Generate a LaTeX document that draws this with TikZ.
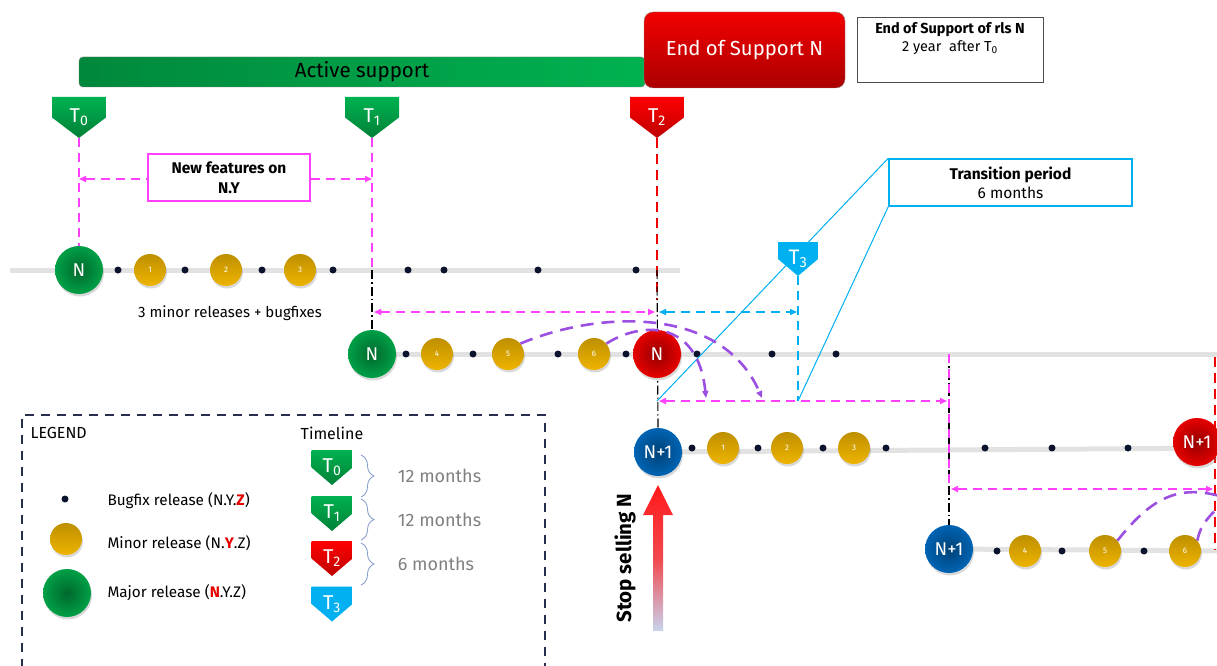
\documentclass[tikz,border=0pt]{standalone}
\usepackage{fontspec}
\setmainfont{Fira Sans}
\usetikzlibrary{arrows.meta, positioning, calc, decorations.pathreplacing, shadows}

\definecolor{relgreen}{RGB}{0,160,70}
\definecolor{relred}{RGB}{230,0,0}
\definecolor{relblue}{RGB}{0,100,180}
\definecolor{relgold}{RGB}{238,180,0}
\definecolor{tgreenlt}{RGB}{0,178,80}
\definecolor{tgreendk}{RGB}{0,128,55}
\definecolor{tredlt}{RGB}{255,0,0}
\definecolor{treddk}{RGB}{190,0,0}
\definecolor{tcyan}{RGB}{0,176,240}
\definecolor{fmagenta}{RGB}{255,64,255}
\definecolor{curvepurple}{RGB}{155,80,225}
\definecolor{railgray}{RGB}{226,226,226}
\definecolor{dotnavy}{RGB}{12,20,45}
\definecolor{legendnavy}{RGB}{38,48,78}
\definecolor{bracegray}{RGB}{140,160,205}
\definecolor{monthgray}{RGB}{128,128,128}
\definecolor{arrowred}{RGB}{255,25,25}
\definecolor{arrowpale}{RGB}{200,212,238}

\newcommand{\pxsize}[2]{\fontsize{#1}{#2}\selectfont}

\pgfdeclarelayer{bg}
\pgfsetlayers{bg,main}

\begin{document}
\begin{tikzpicture}[x=1pt, y=-1pt,
  rail/.style={draw=railgray, line width=5pt},
  major/.style={circle, minimum size=48pt, inner sep=0pt, text=white, font=\pxsize{18.5}{18.5},
    inner color=#1!65!black, outer color=#1, drop shadow={opacity=0.3, shadow xshift=1pt, shadow yshift=-2.5pt}},
  minor/.style={circle, minimum size=32pt, inner sep=0pt, text=white, font=\pxsize{8}{8},
    top color=relgold!80!black, bottom color=relgold, drop shadow={opacity=0.3, shadow xshift=1pt, shadow yshift=-2.5pt}},
  bugfix/.style={circle, fill=dotnavy, minimum size=7pt, inner sep=0pt},
  tmark/.style n args={4}{minimum width=#1, minimum height=#2, inner sep=0pt, text=white, font=\pxsize{20}{20},
    path picture={\shade[top color=#3, bottom color=#4] (path picture bounding box.north west)
      -- (path picture bounding box.north east) -- (path picture bounding box.east)
      -- (path picture bounding box.south) -- (path picture bounding box.west) -- cycle;}},
  feat/.style={draw=fmagenta, line width=1.6pt, dash pattern=on 9pt off 6pt},
  eosline/.style={draw=red!95!black, line width=1.6pt, dash pattern=on 10pt off 6pt},
  transline/.style={draw=tcyan, line width=1.6pt, dash pattern=on 9pt off 6pt},
  branch/.style={draw=black, line width=1.1pt, dash pattern=on 9pt off 3pt on 1.5pt off 3pt},
  backport/.style={draw=curvepurple, line width=2.6pt, dash pattern=on 13pt off 8pt},
  callout/.style={draw=tcyan, line width=1pt},
  brace/.style={draw=bracegray, line width=0.9pt, decorate, decoration={brace, amplitude=13pt}},
  >={Triangle[length=7pt,width=6pt]}
]
\useasboundingbox (0,0) rectangle (1217,666);

% support bars
\node[draw=black!55, rounded corners=4pt, left color=relgreen!85!black, right color=tgreenlt,
  minimum width=566pt, minimum height=30pt, font=\pxsize{20.5}{20.5}] (active) at (362,72) {Active support};
\node[draw=black!45, rounded corners=9pt, top color=red!95!black, bottom color=treddk!90!black,
  minimum width=201pt, minimum height=76pt, text=white, font=\pxsize{20.3}{20.3}] (eos) at (744.5,50) {End of Support N};
\node[draw=black!70, line width=0.8pt, minimum width=186pt, minimum height=65pt] (eosbox) at (950,49.5) {};
\node[align=center, font=\pxsize{14.5}{18.5}, below=2pt of eosbox.north] (eostext)
  {\textbf{End of Support of rls N}\\2 year\ \ after T\textsubscript{0}};

% milestones
\node[tmark={54pt}{41pt}{tgreenlt}{tgreendk}] (t0) at (79,117.5) {T\textsubscript{0}};
\node[tmark={54pt}{41pt}{tgreenlt}{tgreendk}] (t1) at (372,117.5) {T\textsubscript{1}};
\node[tmark={54pt}{41pt}{tredlt}{treddk}] (t2) at (657,117.5) {T\textsubscript{2}};

\node[draw=fmagenta, line width=1.5pt, fill=white, minimum width=162pt, minimum height=47pt, align=center,
  font=\bfseries\pxsize{15.5}{19.5}] (newfeat) at (229,177.5) {New features on\\N.Y};
\node[draw=tcyan, line width=1.5pt, fill=white, minimum width=243pt, minimum height=47pt, align=center,
  font=\pxsize{15.5}{19}] (trans) at (1010.5,182.5) {\textbf{Transition period}\\6 months};

% release N
\node[major=relgreen] (n1) at (79,270) {N};
\foreach \x/\k in {150/1,226/2,300/3} \node[minor] (m\k) at (\x,270) {\k};
\foreach \x in {118,185,262,333,408,444,538,636} \node[bugfix] (b1-\x) at (\x,270) {};
\node[font=\pxsize{15}{15}] (minors) at (230,313) {3 minor releases + bugfixes};

\node[major=relgreen] (n2) at (372,354) {N};
\foreach \x/\k in {437/4,508/5,594/6} \node[minor] (m\k) at (\x,354) {\k};
\foreach \x in {406,473,558,626,697,772,836} \node[bugfix] (b2-\x) at (\x,354) {};
\node[major=relred] (n2r) at (657,354) {N};

% release N+1
\node[major=relblue] (n3) at (658,452) {N+1};
\foreach \x/\k in {723/1,787/2,854/3} \node[minor] (p\k) at (\x,448) {\k};
\foreach \x in {692,758,823,886,985,1052,1128} \node[bugfix] (b3-\x) at (\x,448) {};
\node[major=relred] (n3r) at (1197,442) {N+1};

\node[major=relblue] (n4) at (949,549) {N+1};
\foreach \x/\k in {1025/4,1105/5,1185/6} \node[minor] (p\k) at (\x,551) {\k};
\foreach \x in {997,1062,1144} \node[bugfix] (b4-\x) at (\x,551) {};

\coordinate (gA) at (0,179);
\coordinate (gB) at (0,312);
\coordinate (gC) at (0,401);
\coordinate (gD) at (0,489);
\coordinate (tpL) at (657,401);
\coordinate (tpR) at (798,401);

% transition callout
\draw[callout] (trans.north west) -- (tpL);
\draw[callout] (trans.south west) -- (tpR);
\node[tmark={40pt}{34pt}{tcyan}{tcyan}, font=\pxsize{21}{21}] (t3) at (798,259) {T\textsubscript{3}};

\begin{pgfonlayer}{bg}
  \draw[rail] (10,270) -- (680,270);
  \draw[rail] (n2.center) -- (1230,354);
  \draw[rail] (n3.center) -- (1230,448);
  \draw[rail] (n4.center) -- (1230,551);

  \draw[feat] (t0.south) -- (n1.north);
  \draw[feat] (t1.south) -- (t1.south |- n1);
  \draw[branch] (t1.south |- n1) -- (n2.north);
  \draw[eosline] (t2.south) -- (657,300);
  \draw[branch] (t2.south |- n1) -- (n3.north);
  \draw[transline] (t3.south) -- (tpR);
  \draw[branch] (n4 |- n2) -- (n4.north);
  \draw[feat] (n4 |- n2) -- (n4 |- gD);
  \draw[eosline] (1215,357) -- (1215,550);

  \draw[feat, <->] (t0.south |- gA) -- (t1.south |- gA);
  \draw[feat, <->] ([xshift=2pt]t1.south |- gB) -- ([xshift=-2pt]t2.south |- gB);
  \draw[transline, <->] ([xshift=2pt]t2.south |- gB) -- ([xshift=-1pt]t3.south |- gB);
  \draw[feat, <->] ([xshift=2pt]tpL) -- ([xshift=-2pt]n4 |- gC);
  \draw[feat, <->] ([xshift=2pt]n4 |- gD) -- (1213,489);
\end{pgfonlayer}

% backports
\draw[backport, ->] (m5.40) .. controls (600,310) and (722,306) .. (762,398);
\draw[backport, ->] (m6.40) .. controls (640,322) and (698,318) .. (706,398);
\draw[backport] (p5.40) .. controls (1150,500) and (1178,480) .. (1232,500);
\draw[backport] (p6.40) .. controls (1200,524) and (1212,512) .. (1228,500);

% stop selling
\coordinate (stoptip) at ($(n3.south)+(0,9)$);
\shade[top color=arrowred, bottom color=arrowpale, middle color=arrowred!75!arrowpale]
  (stoptip) -- ++(15,30) -- ++(-10,0) -- ++(0,116) -- ++(-10,0) -- ++(0,-116) -- ++(-10,0) -- cycle;
\node[rotate=90, font=\bfseries\pxsize{20.5}{20.5}] (stop) at (625,558) {Stop selling N};

% legend
\draw[legendnavy, line width=2.5pt, dash pattern=on 9pt off 7pt] (22,700) -- (22,415) -- (545,415) -- (545,700);
\node[anchor=west, font=\pxsize{16}{16}] (legend) at (27,433) {LEGEND};
\node[font=\pxsize{16}{16}] (timeline) at (332,433) {Timeline};
\node[bugfix] (lgbug) at (65,499) {};
\node[minor] (lgminor) at (66,539) {};
\node[major=relgreen] (lgmajor) at (67,593) {};
\node[anchor=west, font=\pxsize{15.3}{15.3}] (lgbugtxt) at (104,501) {Bugfix release (N.Y.\textcolor{relred}{\textbf{Z}})};
\node[anchor=west, font=\pxsize{15.3}{15.3}] (lgminortxt) at (104,543) {Minor release (N.\textcolor{relred}{\textbf{Y}}.Z)};
\node[anchor=west, font=\pxsize{15.3}{15.3}] (lgmajortxt) at (104,593) {Major release (\textcolor{relred}{\textbf{N}}.Y.Z)};

\node[tmark={41pt}{35pt}{tgreenlt}{tgreendk}] (lt0) at (332,467.5) {T\textsubscript{0}};
\node[tmark={41pt}{35pt}{tgreenlt}{tgreendk}] (lt1) at (332,513.5) {T\textsubscript{1}};
\node[tmark={41pt}{35pt}{tredlt}{treddk}] (lt2) at (332,558.5) {T\textsubscript{2}};
\node[tmark={41pt}{35pt}{tcyan}{tcyan}] (lt3) at (332,604) {T\textsubscript{3}};

\draw[brace] (361,455) -- (361,497) node[midway, right=33pt, text=monthgray, font=\pxsize{18}{18}] (mo1) {12 months};
\draw[brace] (361,499) -- (361,540) node[midway, right=33pt, text=monthgray, font=\pxsize{18}{18}] (mo2) {12 months};
\draw[brace] (361,543) -- (361,585) node[midway, right=33pt, text=monthgray, font=\pxsize{18}{18}] (mo3) {6 months};
\end{tikzpicture}
\end{document}
